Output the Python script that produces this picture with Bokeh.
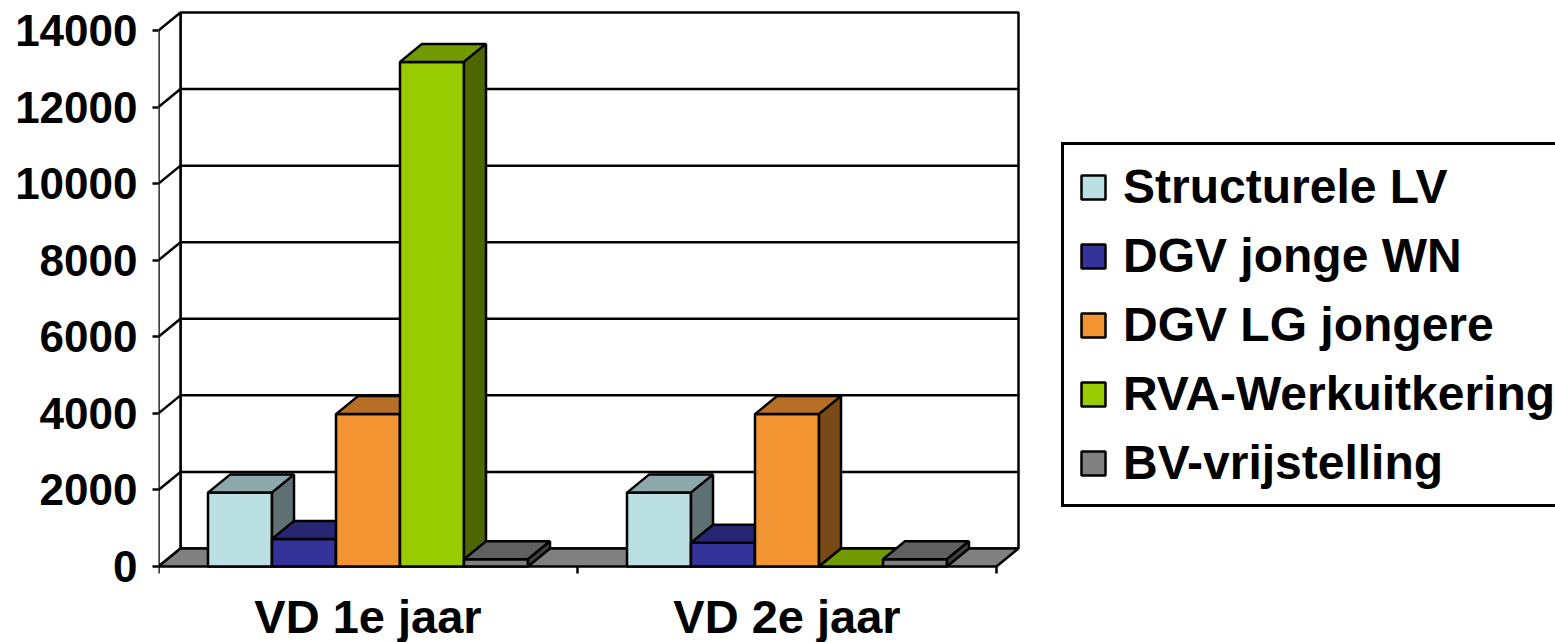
from bokeh.plotting import figure
from bokeh.models import Range1d, FixedTicker, Legend, LegendItem
from bokeh.core.properties import value
from bokeh.embed import file_html
from bokeh.resources import INLINE

# ---------------- data ----------------
CATEGORIES = ["VD 1e jaar", "VD 2e jaar"]
SERIES = ["Structurele LV", "DGV jonge WN", "DGV LG jongere",
          "RVA-Werkuitkering", "BV-vrijstelling"]
STRUCTURELE_LV = [1930, 1930]
DGV_JONGE_WN = [720, 620]
DGV_LG_JONGERE = [3980, 3980]
RVA_WERKUITKERING = [13180, 0]
BV_VRIJSTELLING = [190, 190]
VALUES = [STRUCTURELE_LV, DGV_JONGE_WN, DGV_LG_JONGERE,
          RVA_WERKUITKERING, BV_VRIJSTELLING]
Y_TICKS = [0, 2000, 4000, 6000, 8000, 10000, 12000, 14000]

# ---------------- style / geometry ----------------
FRONT = ["#BBE0E3", "#333399", "#F29431", "#99CC00", "#808080"]
TOP = ["#8CA8AA", "#262673", "#B66F25", "#739900", "#606060"]
SIDE = ["#5E7072", "#1A1A4D", "#794A18", "#4D6600", "#404040"]
FONT = "Liberation Sans"
LW = 2.5
W, H = 1555, 642
BL, BT = 158, 0
ZERO_PX = 566            # canvas y of the value 0 (front plane)
AXIS_PX = 536            # pixel length of the value axis
CAT_PX = 419             # pixel width of one category
BAR_PX = 64              # bar width in pixels
DEPTH_X_PX, DEPTH_Y_PX = 22, 18
TICK_PX = 7
LABEL_DROP_PX = 50

Y_MAX = Y_TICKS[-1]
ppu = AXIS_PX / Y_MAX
y_start = -(H - ZERO_PX) / ppu
y_end = (ZERO_PX - BT) / ppu
x_end = (W - BL) / CAT_PX
BAR_W = BAR_PX / CAT_PX
DX = DEPTH_X_PX / CAT_PX
DY = DEPTH_Y_PX / ppu

p = figure(width=W, height=H, x_range=Range1d(0, x_end), y_range=Range1d(y_start, y_end),
           output_backend="svg", toolbar_location=None,
           min_border_left=BL, min_border_right=0, min_border_top=BT, min_border_bottom=0)
p.outline_line_color = None
p.xgrid.visible = False
p.ygrid.visible = False
p.xaxis.visible = False
p.background_fill_color = "white"
p.border_fill_color = "white"

n = len(CATEGORIES)

# back wall
p.quad(left=[DX], right=[n + DX], bottom=[DY], top=[Y_MAX + DY],
       fill_color="white", line_color="black", line_width=LW)
# side wall
p.patch(x=[0, 0, DX, DX], y=[0, Y_MAX, Y_MAX + DY, DY],
        fill_color="white", line_color="black", line_width=LW)
# gridlines on back wall and side wall
inner = Y_TICKS[1:-1]
p.segment(x0=[DX] * len(inner), x1=[n + DX] * len(inner),
          y0=[v + DY for v in inner], y1=[v + DY for v in inner],
          line_color="black", line_width=LW)
p.segment(x0=[0] * len(inner), x1=[DX] * len(inner),
          y0=inner, y1=[v + DY for v in inner],
          line_color="black", line_width=LW)
# floor
p.patch(x=[0, n, n + DX, DX], y=[0, 0, DY, DY],
        fill_color="#808080", line_color="black", line_width=LW)

# category tick marks
edges = list(range(n + 1))
p.segment(x0=edges, x1=edges, y0=[0] * len(edges), y1=[-TICK_PX / ppu] * len(edges),
          line_color="black", line_width=LW)

# bars (painted left to right)
items = []
ns = len(SERIES)
for i, vals in enumerate(VALUES):
    xl = [g + 0.5 + (i - ns / 2.0) * BAR_W for g in range(n)]
    xr = [x + BAR_W for x in xl]
    front = p.quad(left=xl, right=xr, bottom=[0] * n, top=vals,
                   fill_color=FRONT[i], line_color="black", line_width=LW)
    p.patches(xs=[[a, b, b + DX, a + DX] for a, b in zip(xl, xr)],
              ys=[[v, v, v + DY, v + DY] for v in vals],
              fill_color=TOP[i], line_color="black", line_width=LW)
    p.patches(xs=[[b, b, b + DX, b + DX] for b in xr],
              ys=[[0, v, v + DY, DY] for v in vals],
              fill_color=SIDE[i], line_color="black", line_width=LW)
    items.append(LegendItem(label=SERIES[i], renderers=[front]))

# category labels
p.text(x=[g + 0.5 for g in range(n)], y=[-LABEL_DROP_PX / ppu] * n, text=CATEGORIES,
       text_align="center", text_baseline="alphabetic",
       text_font=value(FONT), text_font_size="47px", text_font_style="bold",
       text_color="black")

# y axis
ya = p.yaxis[0]
ya.ticker = FixedTicker(ticks=Y_TICKS)
ya.axis_line_color = None
ya.major_tick_out = 6
ya.major_tick_in = 0
ya.major_tick_line_width = LW
ya.major_tick_line_color = "black"
ya.minor_tick_line_color = None
ya.major_label_text_font = FONT
ya.major_label_text_font_size = "44px"
ya.major_label_text_font_style = "bold"
ya.major_label_text_color = "black"
ya.major_label_standoff = 15

legend = Legend(items=items, location=(903, 135), orientation="vertical",
                border_line_color="black", border_line_width=3, border_line_alpha=1.0,
                background_fill_color="white", background_fill_alpha=1.0,
                label_text_font=FONT, label_text_font_size="48px",
                label_text_font_style="bold", label_text_color="black",
                glyph_width=30, glyph_height=30, label_standoff=15,
                padding=14, spacing=14, margin=0, label_height=44)
p.add_layout(legend)

open("out.html", "w").write(file_html(p, INLINE))
